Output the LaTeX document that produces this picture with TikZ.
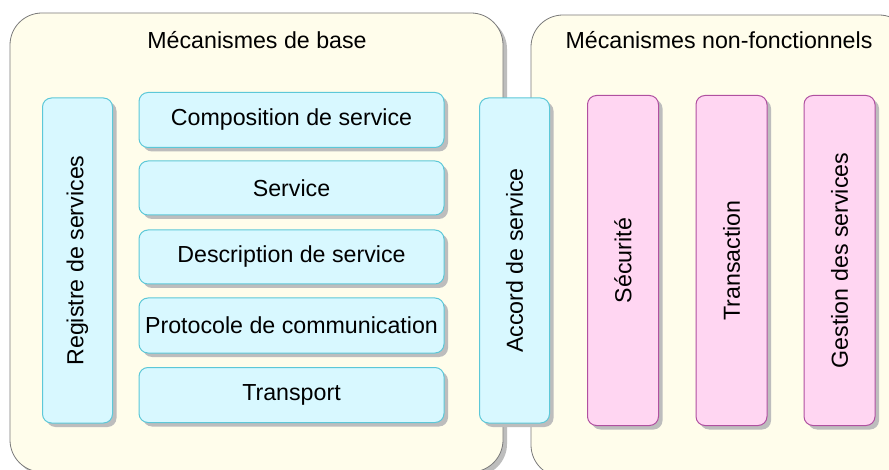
\documentclass[tikz,border=0pt]{standalone}
\usepackage{fontspec}
\setmainfont{Liberation Sans}
\usetikzlibrary{shadows}
\definecolor{cream}{HTML}{FFFDEB}
\definecolor{cyanfill}{HTML}{D8F8FF}
\definecolor{cyanline}{HTML}{5CC8D8}
\definecolor{pinkfill}{HTML}{FFD6F2}
\definecolor{pinkline}{HTML}{B050A0}
\definecolor{shadowgray}{HTML}{BDBDBD}
\definecolor{frameline}{HTML}{7A7A7A}
\begin{document}
\begin{tikzpicture}[x=1pt,y=-1pt,
  font=\fontsize{23.2}{26}\selectfont,
  shad/.style={drop shadow={shadow xshift=4pt,shadow yshift=-4pt,fill=shadowgray,opacity=1}},
  container/.style={draw=frameline,line width=0.8pt,fill=cream,rounded corners=32pt,shad,inner sep=0pt},
  cyanbox/.style={draw=cyanline,line width=1pt,fill=cyanfill,rounded corners=9pt,shad,inner sep=0pt,text=black},
  pinkbox/.style={draw=pinkline,line width=1pt,fill=pinkfill,rounded corners=9pt,shad,inner sep=0pt,text=black},
  title/.style={anchor=base,inner sep=0pt,text=black}]
\useasboundingbox[fill=white] (0,0) rectangle (889,470);
% containers
\node[container,minimum width=493pt,minimum height=459pt] (base) at (256.5,242.5) {};
\node[container,minimum width=380pt,minimum height=462pt] (nonf) at (721,246) {};
\node[title] (tbase) at (257,49) {Mécanismes de base};
\node[title] (tnonf) at (719,49) {Mécanismes non-fonctionnels};
% left column
\node[cyanbox,minimum width=70pt,minimum height=325pt] (reg) at (77.5,260.5) {\rotatebox{90}{Registre de services}};
% stack
\node[cyanbox,minimum width=305pt,minimum height=55pt] (comp) at (291.5,120) {Composition de service};
\node[cyanbox,minimum width=305pt,minimum height=54pt] (serv) at (291.5,188) {Service};
\node[cyanbox,minimum width=305pt,minimum height=54pt] (desc) at (291.5,257) {Description de service};
\node[cyanbox,minimum width=305pt,minimum height=55pt] (prot) at (291.5,325.5) {Protocole de communication};
\node[cyanbox,minimum width=305pt,minimum height=55pt] (trans) at (291.5,395) {Transport};
% accord
\node[cyanbox,minimum width=70pt,minimum height=325pt] (acc) at (514.5,260.5) {\rotatebox{90}{Accord de service}};
% pink
\node[pinkbox,minimum width=71pt,minimum height=330pt] (secu) at (623,260.5) {\rotatebox{90}{Sécurité}};
\node[pinkbox,minimum width=71pt,minimum height=330pt] (tran) at (731.5,260.5) {\rotatebox{90}{Transaction}};
\node[pinkbox,minimum width=71pt,minimum height=330pt] (gest) at (839.5,260.5) {\rotatebox{90}{Gestion des services}};
\end{tikzpicture}
\end{document}
